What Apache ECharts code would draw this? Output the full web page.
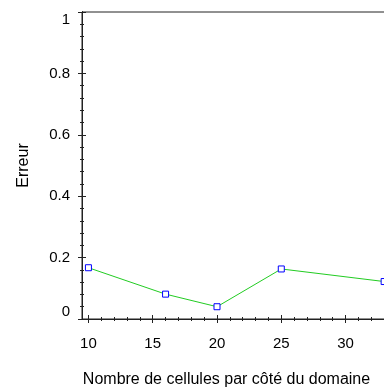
<!DOCTYPE html>
<html>
<head>
<meta charset="utf-8">
<script src="https://cdn.jsdelivr.net/npm/echarts@6/dist/echarts.min.js"></script>
<style>
  html, body { margin: 0; padding: 0; background: #fff; }
  #chart { width: 384px; height: 390px; }
</style>
</head>
<body>
<div id="chart"></div>
<script>
var cellCounts = [10, 16, 20, 25, 33];
var errors = [0.167, 0.081, 0.040, 0.163, 0.122];
var xTicks = [10, 15, 20, 25, 30];
var yTicks = [0, 0.2, 0.4, 0.6, 0.8, 1];

var xMinor = [];
for (var i = 10; i <= 34; i++) { xMinor.push(i); }
var yMinor = [];
for (var j = 0; j <= 25; j++) { yMinor.push(+(j * 0.04).toFixed(2)); }

var font = 'Liberation Sans, Arial, sans-serif';
var axisCol = '#222';

function xAx(ticks, inside, len, labels) {
  return {
    type: 'value', min: 9.5, max: 34, position: 'bottom',
    axisLine: { show: true, lineStyle: { color: axisCol, width: 1 } },
    axisTick: { show: true, inside: inside, length: len, customValues: ticks,
                lineStyle: { color: axisCol } },
    axisLabel: labels ? { show: true, customValues: xTicks, margin: 17,
                fontSize: 15, color: '#000', fontFamily: font } : { show: false },
    splitLine: { show: false }
  };
}
function yAx(ticks, inside, len, labels) {
  return {
    type: 'value', min: 0, max: 1, position: 'left',
    axisLine: { show: true, lineStyle: { color: axisCol, width: 1 } },
    axisTick: { show: true, inside: inside, length: len, customValues: ticks,
                lineStyle: { color: axisCol } },
    axisLabel: labels ? { show: true, customValues: yTicks, margin: 12,
                verticalAlignMinLabel: 'bottom', verticalAlignMaxLabel: 'top',
                fontSize: 15, color: '#000', fontFamily: font } : { show: false },
    splitLine: { show: false }
  };
}

var xAxes = [xAx(xTicks, false, 4, true), xAx(xTicks, true, 4, false),
             xAx(xMinor, false, 2, false), xAx(xMinor, true, 2, false)];
xAxes[0].name = 'Nombre de cellules par côté du domaine';
xAxes[0].nameLocation = 'middle';
xAxes[0].nameGap = 53;
xAxes[0].nameTextStyle = { fontSize: 16, color: '#000', fontFamily: font, padding: [0, 26, 0, 0] };

var yAxes = [yAx(yTicks, false, 4, true), yAx(yTicks, true, 4, false),
             yAx(yMinor, false, 2, false), yAx(yMinor, true, 2, false)];
yAxes[0].name = 'Erreur';
yAxes[0].nameLocation = 'middle';
yAxes[0].nameGap = 50;
yAxes[0].nameTextStyle = { fontSize: 16, color: '#000', fontFamily: font };

var chart = echarts.init(document.getElementById('chart'));
chart.setOption({
  animation: false,
  backgroundColor: '#fff',
  grid: { left: 82, top: 12, bottom: 71, width: 315, show: true,
          borderColor: axisCol, borderWidth: 1, outerBoundsMode: 'none' },
  xAxis: xAxes,
  yAxis: yAxes,
  series: [{
    type: 'line',
    data: cellCounts.map(function (c, k) { return [c, errors[k]]; }),
    symbol: 'rect',
    symbolSize: 6,
    lineStyle: { color: '#22cc22', width: 1 },
    itemStyle: { color: '#fff', borderColor: '#0000ff', borderWidth: 1 },
    clip: false
  }]
});
</script>
</body>
</html>
